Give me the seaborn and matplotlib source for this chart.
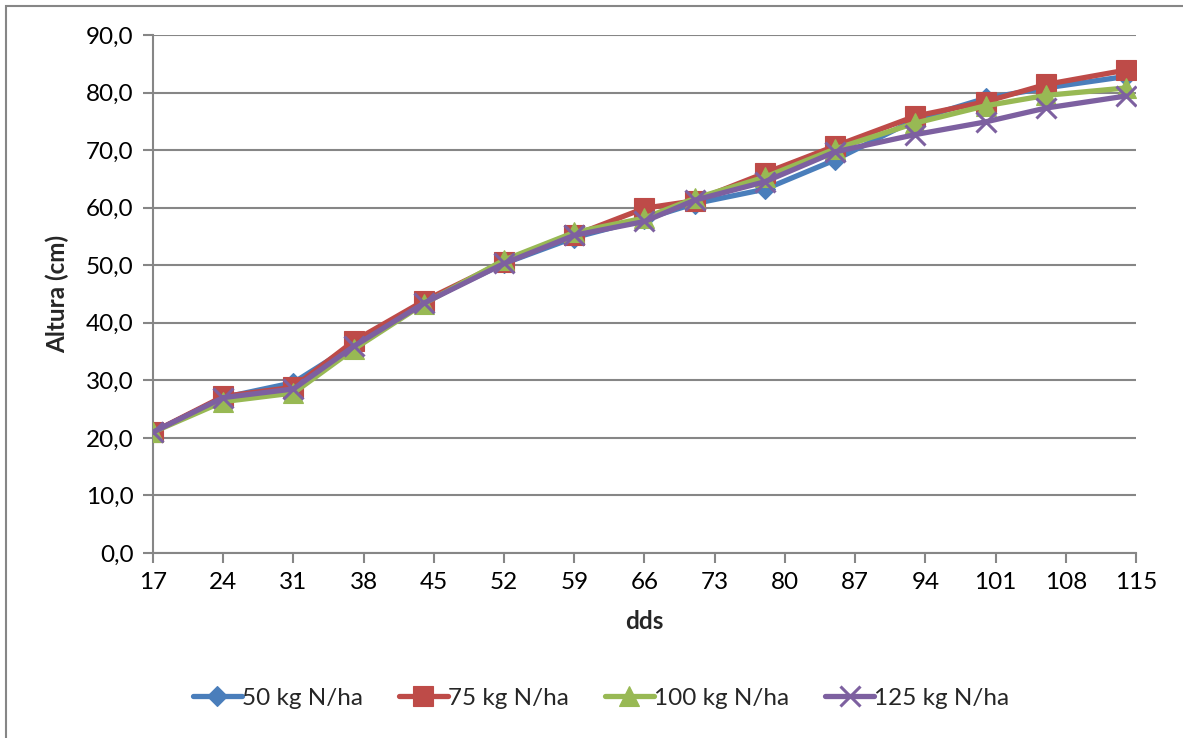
import matplotlib
matplotlib.use("Agg")
import matplotlib.pyplot as plt
from matplotlib.patches import Rectangle
from matplotlib.ticker import FuncFormatter
import seaborn as sns
import pandas as pd

# Days after sowing and plant height (cm) per nitrogen rate
dds = [17, 24, 31, 37, 44, 52, 59, 66, 71, 78, 85, 93, 100, 106, 114]
n50 = [21.0, 27.0, 29.6, 36.2, 43.6, 50.3, 54.8, 58.0, 60.7, 63.2, 68.3, 75.3, 79.0, 80.8, 82.8]
n75 = [21.0, 27.2, 28.8, 36.8, 43.8, 50.6, 55.2, 59.9, 61.2, 66.0, 70.7, 75.9, 78.4, 81.4, 83.9]
n100 = [21.0, 26.3, 27.8, 35.4, 43.3, 50.9, 55.7, 58.2, 61.6, 65.3, 70.2, 74.7, 77.7, 79.5, 80.8]
n125 = [21.0, 27.0, 28.5, 35.9, 43.4, 50.3, 55.2, 57.6, 61.3, 64.5, 69.7, 72.7, 74.9, 77.3, 79.4]
series_names = ["50 kg N/ha", "75 kg N/ha", "100 kg N/ha", "125 kg N/ha"]
x_ticks = list(range(17, 116, 7))
y_ticks = list(range(0, 91, 10))

colors = ["#4A7EBB", "#BE4B48", "#98B954", "#7D60A0"]
markers = ["D", "s", "^", "x"]
msizes = [10.5, 14, 14, 14]

df = pd.concat([
    pd.DataFrame({"dds": dds, "altura": vals, "serie": name})
    for name, vals in zip(series_names, [n50, n75, n100, n125])
])

sns.set_theme(style="white")
plt.rcParams["font.family"] = ["Lato", "DejaVu Sans"]
FS = 17.5

fig = plt.figure(figsize=(11.83, 7.38), dpi=100)
ax = fig.add_axes([153 / 1183, 1 - 553 / 738, (1136 - 153) / 1183, (553 - 35) / 738])

for name, col, mk, ms in zip(series_names, colors, markers, msizes):
    sub = df[df["serie"] == name]
    sns.lineplot(data=sub, x="dds", y="altura", ax=ax, color=col, lw=3.8,
                 marker=mk, markersize=ms, markeredgecolor=col,
                 markeredgewidth=2.2 if mk == "x" else 0.8,
                 label=name, sort=False, zorder=3)

ax.set_xlim(17, 115)
ax.set_ylim(0, 90)
ax.set_xticks(x_ticks)
ax.set_yticks(y_ticks)
ax.yaxis.set_major_formatter(FuncFormatter(lambda v, p: f"{v:.1f}".replace(".", ",")))
ax.grid(axis="y", color="#868686", lw=1.5)
ax.grid(axis="x", visible=False)
for side in ["top", "right"]:
    ax.spines[side].set_visible(False)
for side in ["left", "bottom"]:
    ax.spines[side].set_color("#868686")
    ax.spines[side].set_linewidth(1.5)
ax.tick_params(axis="both", direction="out", length=7, width=1.5, color="#868686",
               labelsize=FS, labelcolor="black", pad=7, left=True, bottom=True)
ax.set_xlabel("dds", fontsize=FS, fontweight="bold", labelpad=12)
ax.set_ylabel("Altura (cm)", fontsize=FS, fontweight="bold", labelpad=12)

handles, labels = ax.get_legend_handles_labels()
fig.legend(handles, labels, loc="center", bbox_to_anchor=(0.508, 1 - 698 / 738), ncol=4,
           frameon=False, fontsize=FS, handlelength=2.0, handletextpad=0.0,
           columnspacing=1.5)
ax.get_legend().remove()

fig.patches.append(Rectangle((6 / 1183, -0.05), 1.1, 1 - 6 / 738 + 0.05,
                             transform=fig.transFigure, fill=False,
                             edgecolor="#868686", lw=1.5))

fig.savefig("out.png", dpi=100)
